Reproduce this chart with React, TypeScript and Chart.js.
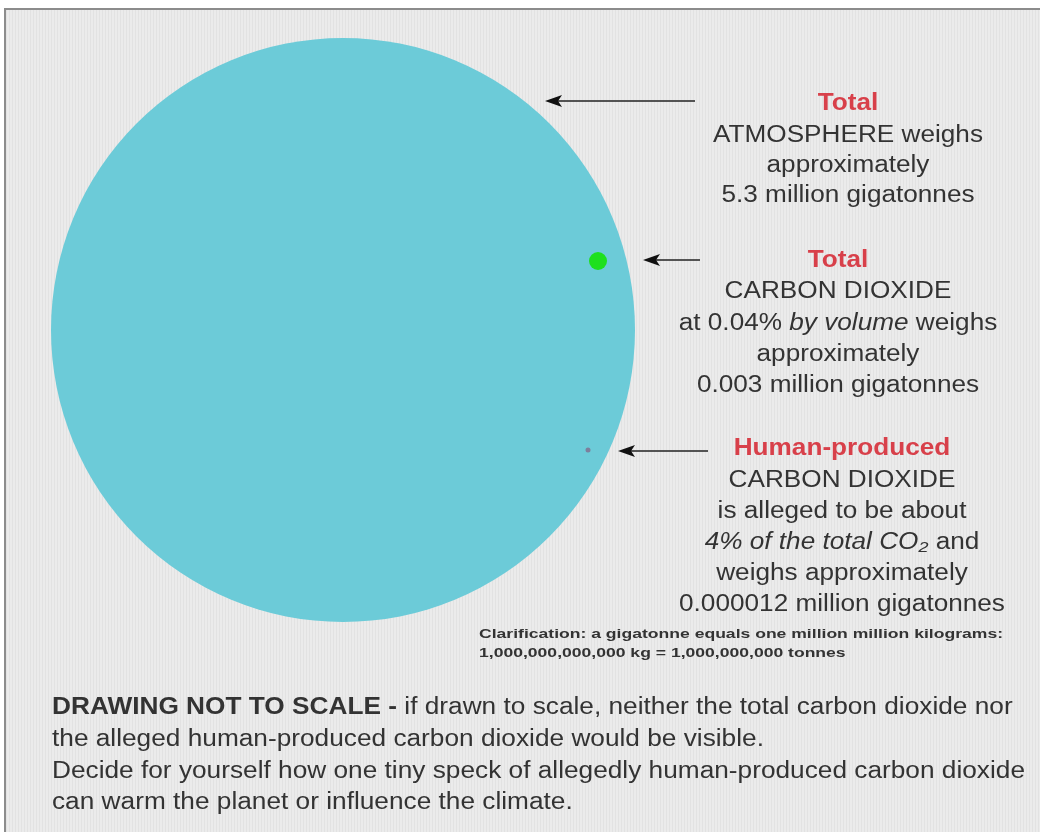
import { useEffect, useRef } from "react";
import { Chart, registerables } from "chart.js";

Chart.register(...registerables);

// ---- data ----
const categories = ["Total ATMOSPHERE", "Total CARBON DIOXIDE", "Human-produced CARBON DIOXIDE"];
const weightsMillionGt = [5.3, 0.003, 0.000012];
const headings = ["Total", "Total", "Human-produced"];

// ---- diagram layout (drawing not to scale) ----
const markX = [343, 598, 588];
const markY = [330, 261, 450];
const markR = [292, 9, 2.5];
const markColors = ["#6ccbd8", "#1ee01e", "#7d7f9c"];
const arrowStartX = [695, 700, 708];
const arrowEndX = [545, 643, 618];
const arrowY = [101, 260, 451];

type Run = { t: string; italic?: boolean; bold?: boolean; color?: string };
type Line = { runs: Run[]; y: number };

const TEXT = "#333333";
const RED = "#d8404a";
const SANS = "'Liberation Sans', Arial, sans-serif";

const blocks: { cx: number; lines: Line[] }[] = [
  {
    cx: 848,
    lines: [
      { runs: [{ t: headings[0], bold: true, color: RED }], y: 110 },
      { runs: [{ t: "ATMOSPHERE weighs" }], y: 142 },
      { runs: [{ t: "approximately" }], y: 172 },
      { runs: [{ t: `${weightsMillionGt[0]} million gigatonnes` }], y: 202 },
    ],
  },
  {
    cx: 838,
    lines: [
      { runs: [{ t: headings[1], bold: true, color: RED }], y: 267 },
      { runs: [{ t: "CARBON DIOXIDE" }], y: 298 },
      { runs: [{ t: "at 0.04% " }, { t: "by volume", italic: true }, { t: " weighs" }], y: 330 },
      { runs: [{ t: "approximately" }], y: 361 },
      { runs: [{ t: `${weightsMillionGt[1].toFixed(3)} million gigatonnes` }], y: 392 },
    ],
  },
  {
    cx: 842,
    lines: [
      { runs: [{ t: headings[2], bold: true, color: RED }], y: 455 },
      { runs: [{ t: "CARBON DIOXIDE" }], y: 487 },
      { runs: [{ t: "is alleged to be about" }], y: 518 },
      { runs: [{ t: "4% of the total CO\u2082", italic: true }, { t: " and" }], y: 549 },
      { runs: [{ t: "weighs approximately" }], y: 580 },
      { runs: [{ t: `${weightsMillionGt[2].toFixed(6)} million gigatonnes` }], y: 611 },
    ],
  },
];

const clarLines: Line[] = [
  { runs: [{ t: "Clarification: a gigatonne equals one million million kilograms:", bold: true }], y: 638 },
  { runs: [{ t: "1,000,000,000,000 kg = 1,000,000,000 tonnes", bold: true }], y: 657 },
];

const bottomLines: Line[] = [
  {
    runs: [
      { t: "DRAWING NOT TO SCALE -", bold: true },
      { t: " if drawn to scale, neither the total carbon dioxide nor" },
    ],
    y: 714,
  },
  { runs: [{ t: "the alleged human-produced carbon dioxide would be visible." }], y: 746 },
  { runs: [{ t: "Decide for yourself how one tiny speck of allegedly human-produced carbon dioxide" }], y: 778 },
  { runs: [{ t: "can warm the planet or influence the climate." }], y: 809 },
];

function fontFor(r: Run, size: number, family: string) {
  return `${r.italic ? "italic " : ""}${r.bold ? "bold " : ""}${size}px ${family}`;
}

function lineWidth(ctx: CanvasRenderingContext2D, runs: Run[], size: number, family: string) {
  let w = 0;
  for (const r of runs) {
    ctx.font = fontFor(r, size, family);
    w += ctx.measureText(r.t).width;
  }
  return w;
}

function drawLine(
  ctx: CanvasRenderingContext2D,
  line: Line,
  x: number,
  align: "center" | "left",
  size: number,
  family: string,
  sx: number
) {
  const w = lineWidth(ctx, line.runs, size, family);
  ctx.save();
  ctx.translate(x, line.y);
  ctx.scale(sx, 1);
  let cur = align === "center" ? -w / 2 : 0;
  ctx.textBaseline = "alphabetic";
  ctx.textAlign = "left";
  for (const r of line.runs) {
    ctx.font = fontFor(r, size, family);
    ctx.fillStyle = r.color || TEXT;
    ctx.fillText(r.t, cur, 0);
    cur += ctx.measureText(r.t).width;
  }
  ctx.restore();
}

const backgroundPlugin = {
  id: "paperBackground",
  beforeDraw(chart: any) {
    const ctx: CanvasRenderingContext2D = chart.ctx;
    const W = chart.width;
    const H = chart.height;
    ctx.save();
    ctx.fillStyle = "#ffffff";
    ctx.fillRect(0, 0, W, H);
    ctx.fillStyle = "#ebebeb";
    ctx.fillRect(5, 9, W - 5, H - 9);
    ctx.fillStyle = "rgba(0,0,0,0.035)";
    for (let x = 6; x < W; x += 3) ctx.fillRect(x, 10, 1, H - 10);
    ctx.strokeStyle = "#8c8c8c";
    ctx.lineWidth = 2;
    ctx.beginPath();
    ctx.moveTo(5, H);
    ctx.lineTo(5, 9);
    ctx.lineTo(W, 9);
    ctx.stroke();
    ctx.restore();
  },
};

const annotationPlugin = {
  id: "diagramAnnotations",
  afterDraw(chart: any) {
    const ctx: CanvasRenderingContext2D = chart.ctx;
    const xs = chart.scales.x;
    const ys = chart.scales.y;
    ctx.save();
    // arrows
    for (let i = 0; i < arrowY.length; i++) {
      const x0 = xs.getPixelForValue(arrowStartX[i]);
      const x1 = xs.getPixelForValue(arrowEndX[i]);
      const y = ys.getPixelForValue(arrowY[i]);
      ctx.strokeStyle = "#222";
      ctx.lineWidth = 1.6;
      ctx.beginPath();
      ctx.moveTo(x0, y);
      ctx.lineTo(x1 + 12, y);
      ctx.stroke();
      ctx.fillStyle = "#111";
      ctx.beginPath();
      ctx.moveTo(x1, y);
      ctx.lineTo(x1 + 17, y - 6);
      ctx.lineTo(x1 + 13, y);
      ctx.lineTo(x1 + 17, y + 6);
      ctx.closePath();
      ctx.fill();
    }
    // right-hand text blocks
    const size = 23;
    ctx.font = `${size}px ${SANS}`;
    const sxRight = 270 / ctx.measureText("ATMOSPHERE weighs").width;
    for (const b of blocks) {
      for (const l of b.lines) drawLine(ctx, l, b.cx, "center", size, SANS, sxRight);
    }
    // clarification
    const cs = 13;
    const cw = lineWidth(ctx, clarLines[0].runs, cs, SANS);
    const sxClar = 524 / cw;
    for (const l of clarLines) drawLine(ctx, l, 479, "left", cs, SANS, sxClar);
    // bottom paragraph
    const bs = 23;
    const bw = lineWidth(ctx, bottomLines[2].runs, bs, SANS);
    const sxBottom = 973 / bw;
    for (const l of bottomLines) drawLine(ctx, l, 52, "left", bs, SANS, sxBottom);
    ctx.restore();
  },
};

export default function App() {
  const ref = useRef<HTMLCanvasElement | null>(null);
  useEffect(() => {
    if (!ref.current) return;
    const chart = new Chart(ref.current, {
      type: "bubble",
      data: {
        labels: categories,
        datasets: [
          {
            label: "Weight (million gigatonnes)",
            data: categories.map((_, i) => ({ x: markX[i], y: markY[i], r: markR[i] })),
            backgroundColor: markColors,
            borderColor: markColors,
            borderWidth: 0,
            hoverRadius: 0,
          },
        ],
      },
      options: {
        animation: false,
        responsive: false,
        devicePixelRatio: 1,
        layout: { padding: 0, autoPadding: false },
        plugins: { legend: { display: false }, tooltip: { enabled: false } },
        scales: {
          x: { type: "linear", min: 0, max: 1040, display: false },
          y: { type: "linear", min: 0, max: 832, reverse: true, display: false },
        },
      },
      plugins: [backgroundPlugin, annotationPlugin],
    });
    return () => chart.destroy();
  }, []);
  return (
    <div style={{ position: "fixed", left: 0, top: 0, width: 1040, height: 832, overflow: "hidden" }}>
      <canvas ref={ref} width={1040} height={832} style={{ display: "block", width: 1040, height: 832 }} />
    </div>
  );
}
